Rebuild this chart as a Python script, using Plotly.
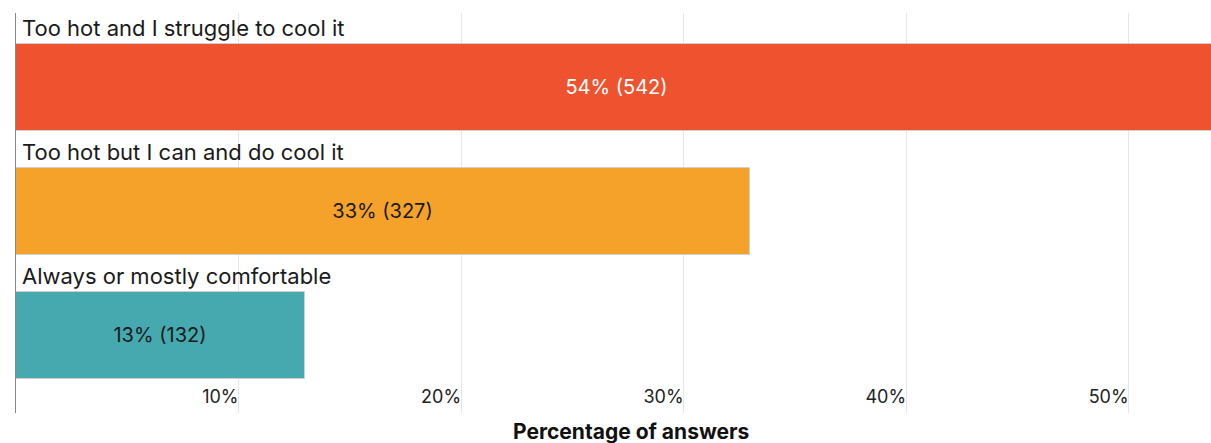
import plotly.graph_objects as go

categories = ["Too hot and I struggle to cool it", "Too hot but I can and do cool it", "Always or mostly comfortable"]
percent = [54, 33, 13]
counts = [542, 327, 132]
colors = ["#EF522E", "#F4A22A", "#45A9AF"]
text_colors = ["#FFFFFF", "#1A1A1A", "#1A1A1A"]
tick_vals = [10, 20, 30, 40, 50]
tick_text = ["10%", "20%", "30%", "40%", "50%"]

FONT = "Inter"
ypos = [2, 1, 0]

W, H = 1211, 443
L, T, B = 16, 13, 443 - 413

fig = go.Figure()
fig.add_trace(go.Bar(
    x=percent, y=ypos, orientation="h", width=0.703,
    marker=dict(color=colors, line=dict(color="#d0d0d0", width=1)),
    text=[f"{p}% ({c})" for p, c in zip(percent, counts)],
    textposition="inside", insidetextanchor="middle",
    textfont=dict(family=FONT, size=20, color=text_colors),
    cliponaxis=True, hoverinfo="skip",
))

for cat, y in zip(categories, ypos):
    fig.add_annotation(x=0, y=y + 0.48, xref="x", yref="y", text=cat, showarrow=False,
                       xanchor="left", yanchor="middle", xshift=4,
                       font=dict(family=FONT, size=22, color="#1A1A1A"))

fig.add_annotation(x=(631 - 16) / (1211 - 16), y=-(431 - 413) / 400, xref="paper", yref="paper",
                   text="<b>Percentage of answers</b>",
                   showarrow=False, xanchor="center", yanchor="middle",
                   font=dict(family=FONT, size=21, color="#111111"))

fig.update_layout(
    width=W, height=H,
    margin=dict(l=L, r=0, t=T, b=B, pad=0),
    plot_bgcolor="white", paper_bgcolor="white",
    showlegend=False, bargap=0,
)

fig.update_xaxes(range=[0, 53.7], tickvals=tick_vals, ticktext=tick_text, showgrid=True,
                 gridcolor="#e6e6e6", gridwidth=1, zeroline=False, showline=False,
                 ticklabelposition="inside left", ticks="",
                 tickfont=dict(family=FONT, size=18, color="#222222"), fixedrange=True)
fig.update_yaxes(range=[-0.628, 2.602], showticklabels=False, showgrid=False, zeroline=False,
                 showline=True, linecolor="#888888", linewidth=1, fixedrange=True)

fig.write_html("out.html", config={"displayModeBar": False},
               post_script="document.body.style.margin='0';document.body.style.overflow='hidden';")
